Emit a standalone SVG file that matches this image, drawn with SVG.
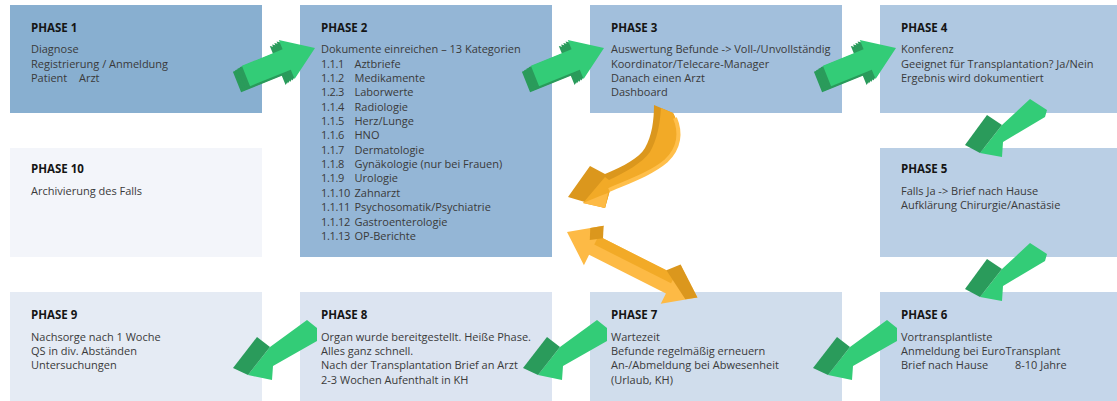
<svg xmlns="http://www.w3.org/2000/svg" width="1117" height="401" viewBox="0 0 1117 401">
<style>
.t{font-family:"Open Sans","Liberation Sans",sans-serif;font-size:11.5px;font-weight:700;fill:#151515}
.b{font-family:"Open Sans","Liberation Sans",sans-serif;font-size:11px;fill:#3a3a3a}
.n{letter-spacing:-0.35px}
.gl{fill:#33CC77}
.gd{fill:#2A9B5B}
.od{fill:#DB971D}
.om{fill:#F2AA27}
.ol{fill:#FDBA45}
</style>
<defs>
<polygon id="gR" points="241.9,65.8 282.6,49.3 278.8,40.1 315,48 294.6,78.9 290.8,69.7 250.1,86.2"/>
<g id="arR">
<use href="#gR" class="gd" transform="translate(-9,6)"/>
<use href="#gR" class="gd" transform="translate(-6.75,4.5)"/>
<use href="#gR" class="gd" transform="translate(-4.5,3)"/>
<use href="#gR" class="gd" transform="translate(-2.25,1.5)"/>
<use href="#gR" class="gl"/>
</g>
<g id="arL">
<polygon class="gl" points="248,375 270,347 307,320 317,328 317,341 273,366 272,380"/>
<polygon class="gd" points="233,368 257,337 270,347 248,375"/>
</g>
<g id="arD">
<polygon class="gl" points="980,153 1002,125 1030,99 1047,110 1045,117 1003,142 1002,157"/>
<polygon class="gd" points="965,145 987,115 1002,125 980,153"/>
</g>
</defs>

<g id="phase1">
<rect x="10" y="5" width="252" height="108" fill="#88AFD0"/>
<text class="t" x="31" y="31.5">PHASE 1</text>
<text class="b" y="53.3"><tspan x="31">Diagnose</tspan><tspan x="31" dy="14.35">Registrierung / Anmeldung</tspan><tspan x="31" dy="14.35">Patient</tspan><tspan x="79">Arzt</tspan></text>
</g>

<g id="phase2">
<rect x="300" y="5" width="252" height="252" fill="#94B6D6"/>
<text class="t" x="321" y="31.5">PHASE 2</text>
<text class="b" x="321" y="53.3">Dokumente einreichen – 13 Kategorien</text>
<text class="b n" y="67.65"><tspan x="321">1.1.1</tspan><tspan x="321" dy="14.35">1.1.2</tspan><tspan x="321" dy="14.35">1.2.3</tspan><tspan x="321" dy="14.35">1.1.4</tspan><tspan x="321" dy="14.35">1.1.5</tspan><tspan x="321" dy="14.35">1.1.6</tspan><tspan x="321" dy="14.35">1.1.7</tspan><tspan x="321" dy="14.35">1.1.8</tspan><tspan x="321" dy="14.35">1.1.9</tspan><tspan x="321" dy="14.35">1.1.10</tspan><tspan x="321" dy="14.35">1.1.11</tspan><tspan x="321" dy="14.35">1.1.12</tspan><tspan x="321" dy="14.35">1.1.13</tspan></text>
<text class="b" y="67.65"><tspan x="354.5">Aztbriefe</tspan><tspan x="354.5" dy="14.35">Medikamente</tspan><tspan x="354.5" dy="14.35">Laborwerte</tspan><tspan x="354.5" dy="14.35">Radiologie</tspan><tspan x="354.5" dy="14.35">Herz/Lunge</tspan><tspan x="354.5" dy="14.35">HNO</tspan><tspan x="354.5" dy="14.35">Dermatologie</tspan><tspan x="354.5" dy="14.35">Gynäkologie (nur bei Frauen)</tspan><tspan x="354.5" dy="14.35">Urologie</tspan><tspan x="354.5" dy="14.35">Zahnarzt</tspan><tspan x="354.5" dy="14.35">Psychosomatik/Psychiatrie</tspan><tspan x="354.5" dy="14.35">Gastroenterologie</tspan><tspan x="354.5" dy="14.35">OP-Berichte</tspan></text>
</g>

<g id="phase3">
<rect x="590" y="5" width="252" height="108" fill="#A2BFDC"/>
<text class="t" x="611" y="31.5">PHASE 3</text>
<text class="b" y="53.3"><tspan x="611">Auswertung Befunde -&gt; Voll-/Unvollständig</tspan><tspan x="611" dy="14.35">Koordinator/Telecare-Manager</tspan><tspan x="611" dy="14.35">Danach einen Arzt</tspan><tspan x="611" dy="14.35">Dashboard</tspan></text>
</g>

<g id="phase4">
<rect x="880" y="5" width="237" height="108" fill="#AFC8E1"/>
<text class="t" x="901" y="31.5">PHASE 4</text>
<text class="b" y="53.3"><tspan x="901">Konferenz</tspan><tspan x="901" dy="14.35">Geeignet für Transplantation? Ja/Nein</tspan><tspan x="901" dy="14.35">Ergebnis wird dokumentiert</tspan></text>
</g>

<g id="phase5">
<rect x="880" y="148" width="237" height="109" fill="#BACFE5"/>
<text class="t" x="901" y="173">PHASE 5</text>
<text class="b" y="195"><tspan x="901">Falls Ja -&gt; Brief nach Hause</tspan><tspan x="901" dy="14.35">Aufklärung Chirurgie/Anastäsie</tspan></text>
</g>

<g id="phase6">
<rect x="880" y="292" width="237" height="109" fill="#C5D6EA"/>
<text class="t" x="901" y="318.7">PHASE 6</text>
<text class="b" y="340.5"><tspan x="901">Vortransplantliste</tspan><tspan x="901" dy="14.35">Anmeldung bei EuroTransplant</tspan><tspan x="901" dy="14.35">Brief nach Hause</tspan><tspan x="1015">8-10 Jahre</tspan></text>
</g>

<g id="phase7">
<rect x="590" y="292" width="252" height="109" fill="#D0DDEC"/>
<text class="t" x="611" y="318.7">PHASE 7</text>
<text class="b" y="340.5"><tspan x="611">Wartezeit</tspan><tspan x="611" dy="14.35">Befunde regelmäßig erneuern</tspan><tspan x="611" dy="14.35">An-/Abmeldung bei Abwesenheit</tspan><tspan x="611" dy="14.35">(Urlaub, KH)</tspan></text>
</g>

<g id="phase8">
<rect x="300" y="292" width="252" height="109" fill="#DCE4F1"/>
<text class="t" x="321" y="318.7">PHASE 8</text>
<text class="b" y="340.5"><tspan x="321">Organ wurde bereitgestellt. Heiße Phase.</tspan><tspan x="321" dy="14.35">Alles ganz schnell.</tspan><tspan x="321" dy="14.35">Nach der Transplantation Brief an Arzt</tspan><tspan x="321" dy="14.35">2-3 Wochen Aufenthalt in KH</tspan></text>
</g>

<g id="phase9">
<rect x="10" y="292" width="252" height="109" fill="#E5EBF4"/>
<text class="t" x="31" y="318.7">PHASE 9</text>
<text class="b" y="340.5"><tspan x="31">Nachsorge nach 1 Woche</tspan><tspan x="31" dy="14.35">QS in div. Abständen</tspan><tspan x="31" dy="14.35">Untersuchungen</tspan></text>
</g>

<g id="phase10">
<rect x="10" y="148" width="252" height="109" fill="#F3F5FA"/>
<text class="t" x="31" y="173">PHASE 10</text>
<text class="b" x="31" y="195">Archivierung des Falls</text>
</g>

<g id="connectors">
<use href="#arR"/>
<use href="#arR" transform="translate(289,0)"/>
<use href="#arR" transform="translate(581,0)"/>
<use href="#arD"/>
<use href="#arD" transform="translate(0,144)"/>
<use href="#arL" transform="translate(580,0)"/>
<use href="#arL" transform="translate(290,0)"/>
<use href="#arL"/>
<g id="curved-orange">
<path class="od" d="M654,105 L673,113 C681,128 682,148 666,162 C652,174 630,182 610,190 L605,208 L568,197 L590,166 L605,174 C624,166 639,158 645,148 C652,136 654,120 654,105 Z"/>
<path class="om" d="M661,108 L673,113 C681,128 682,148 666,162 C652,174 630,182 610,190 L605,208 L583,203 L605,177 L609,180 C626,172 642,163 650,152 C657,140 660,124 661,108 Z"/>
<path fill="none" stroke="#FFBF4B" stroke-width="4" d="M675,118 C681,132 680,148 666,161 C652,173 630,181 609,190"/>
<polygon class="ol" points="583,203 605,208 608,193 600,196"/>
</g>
<g id="double-orange" transform="translate(567,232) rotate(26.7)">
<path class="ol" d="M0,0 L30,-22 L30,-10.5 L116,-10.5 L116,-22 L146,0 L116,22 L116,10.5 L30,10.5 L30,22 Z"/>
<polygon class="om" points="30,-10.5 116,-10.5 116,-1 30,-1"/>
<polygon class="od" points="106,-10.5 116,-22 146,0 136,7"/>
<polygon class="od" points="19,-14 30,-22 35,-10.5 24,-3"/>
</g>
</g>
</svg>
